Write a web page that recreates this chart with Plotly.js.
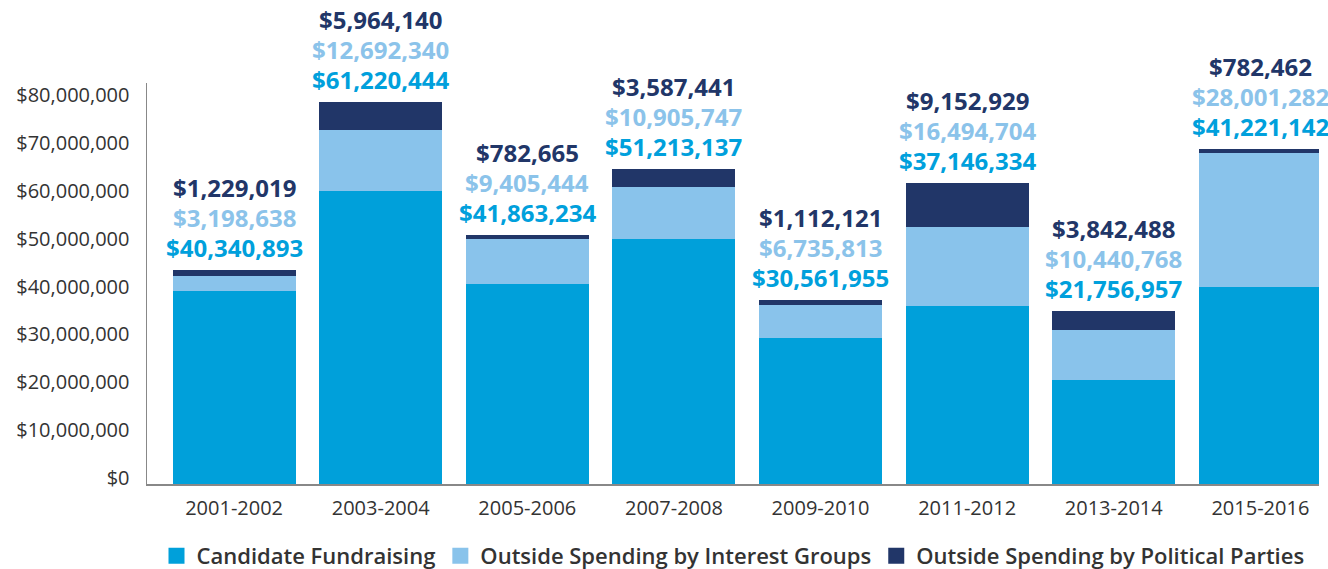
<!DOCTYPE html>
<html><head><meta charset="utf-8">
<script src="https://cdn.plot.ly/plotly-3.0.1.min.js"></script>
<style>body{margin:0;background:#fff}#chart{width:1328px;height:569px}</style>
</head><body><div id="chart"></div>
<script>
const categories = ["2001-2002","2003-2004","2005-2006","2007-2008","2009-2010","2011-2012","2013-2014","2015-2016"];
const candidateFundraising = [40340893, 61220444, 41863234, 51213137, 30561955, 37146334, 21756957, 41221142];
const interestGroups = [3198638, 12692340, 9405444, 10905747, 6735813, 16494704, 10440768, 28001282];
const politicalParties = [1229019, 5964140, 782665, 3587441, 1112121, 9152929, 3842488, 782462];
const seriesNames = ["Candidate Fundraising","Outside Spending by Interest Groups","Outside Spending by Political Parties"];
const colors = ["#00a0da","#89c3eb","#213668"];
const labelColors = ["#00a0dc","#8bc3ea","#213668"];

const series = [candidateFundraising, interestGroups, politicalParties];
const traces = series.map((vals, i) => ({
  type: "bar", x: categories, y: vals, name: seriesNames[i], showlegend: false,
  marker: {color: colors[i]}, hoverinfo: "skip"
}));
// legend entries (bigger square swatches)
seriesNames.forEach((n, i) => traces.push({
  type: "scatter", mode: "markers", x: [null], y: [null], name: n,
  marker: {symbol: "square", size: 16, color: colors[i]}, hoverinfo: "skip"
}));

const fmt = v => "$" + v.toLocaleString("en-US");
const annotations = [];
categories.forEach((c, k) => {
  const total = candidateFundraising[k] + interestGroups[k] + politicalParties[k];
  [0,1,2].forEach((i) => {
    annotations.push({x: c, y: total, xref: "x", yref: "y", text: fmt(series[i][k]), showarrow: false,
      yanchor: "bottom", yshift: 4 + i * 30,
      font: {family: "'Open Sans', sans-serif", size: 24, weight: 700, color: labelColors[i]}});
  });
});

const layout = {
  width: 1328, height: 569,
  margin: {l: 147, r: 9, t: 83, b: 85},
  barmode: "stack", bargap: 0.16,
  paper_bgcolor: "#fff", plot_bgcolor: "#fff",
  font: {family: "'Open Sans', sans-serif", color: "#333"},
  xaxis: {range: [-0.594, 7.40], showgrid: false, showline: true, linecolor: "#888", linewidth: 1.5, automargin: false,
    tickfont: {size: 20, color: "#333"}, ticks: "", ticklabelstandoff: 5},
  yaxis: {range: [0, 83760000], showgrid: false, zeroline: false, showline: true, automargin: false,
    linecolor: "#888", linewidth: 1.5, tickvals: [0,10e6,20e6,30e6,40e6,50e6,60e6,70e6,80e6],
    tickformat: "$,.0f", tickfont: {size: 20, color: "#333"}, ticks: "", ticklabelshift: -6, ticklabelstandoff: 12},
  showlegend: true,
  legend: {orientation: "h", x: 0.5, xanchor: "center", xref: "paper", y: 0.023, yref: "container", yanchor: "middle",
    font: {size: 22, color: "#333", weight: 600}, traceorder: "normal", itemwidth: 30},
  annotations: annotations
};
Plotly.newPlot("chart", traces, layout, {displayModeBar: false, staticPlot: true});
</script></body></html>
